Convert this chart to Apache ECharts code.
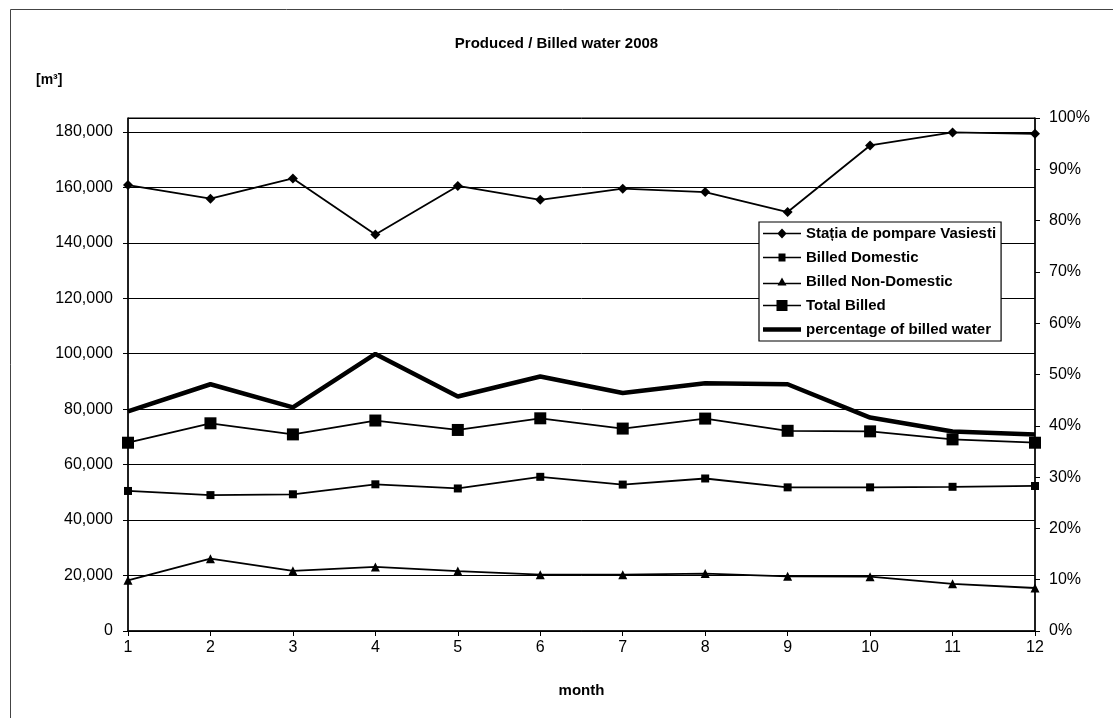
<!DOCTYPE html>
<html>
<head>
<meta charset="utf-8">
<script src="https://cdn.jsdelivr.net/npm/echarts@6/dist/echarts.min.js"></script>
<style>
html,body{margin:0;padding:0;background:#fff;}
#chart{width:1113px;height:718px;}
</style>
</head>
<body>
<div id="chart"></div>
<script>
const months = ['1','2','3','4','5','6','7','8','9','10','11','12'];
const statia = [160800,155900,163200,143000,160500,155500,159500,158300,151100,175100,179800,179300];
const billedDomestic = [50500,49000,49300,52900,51400,55600,52800,55000,51800,51800,52000,52300];
const billedNonDomestic = [18300,26100,21700,23100,21600,20300,20300,20700,19700,19600,17000,15500];
const totalBilled = [67900,74900,70900,75900,72500,76700,73000,76600,72200,72000,69100,67900];
const pctBilled = [42.8,48.1,43.6,54.0,45.7,49.6,46.4,48.3,48.1,41.6,38.9,38.3];
const seriesNames = ['Stația de pompare Vasiesti','Billed Domestic','Billed Non-Domestic','Total Billed','percentage of billed water'];

const FONT = '"Liberation Sans", Arial, sans-serif';
const chart = echarts.init(document.getElementById('chart'));
function fmtThousands(v){ return String(Math.round(v)).replace(/\B(?=(\d{3})+(?!\d))/g, ','); }

// legend glyphs (line + marker) in the style of the original
const legendIcons = [
  'path://M0,4.25 L15,4.25 L19,0 L23,4.25 L38,4.25 L38,5.75 L23,5.75 L19,10 L15,5.75 L0,5.75 Z',
  'path://M0,3.25 L15.5,3.25 L15.5,0 L22.5,0 L22.5,3.25 L38,3.25 L38,4.75 L22.5,4.75 L22.5,8 L15.5,8 L15.5,4.75 L0,4.75 Z',
  'path://M0,5.25 L16.05,5.25 L19,0 L21.95,5.25 L38,5.25 L38,6.75 L22.8,6.75 L23.5,8 L14.5,8 L15.2,6.75 L0,6.75 Z',
  'path://M0,4.75 L13.5,4.75 L13.5,0 L24.5,0 L24.5,4.75 L38,4.75 L38,6.25 L24.5,6.25 L24.5,11 L13.5,11 L13.5,6.25 L0,6.25 Z',
  'path://M0,0 L38,0 L38,4.5 L0,4.5 Z'
];

const lineBase = {type:'line', color:'#000', animation:false, z:3};
chart.setOption({
  backgroundColor:'#fff',
  textStyle:{fontFamily:FONT, color:'#000'},
  title:[
    {text:'Produced / Billed water 2008', left:'center', top:31,
     textStyle:{fontFamily:FONT, fontSize:15, fontWeight:'bold', color:'#000'}},
    {text:'[m³]', left:31, top:68,
     textStyle:{fontFamily:FONT, fontSize:14, fontWeight:'bold', color:'#000'}}
  ],
  graphic:[{type:'rect', left:8, top:7, shape:{width:1300, height:900},
    style:{fill:'none', stroke:'#444', lineWidth:1}, silent:true, z:-1}],
  grid:{left:128, right:78, top:118, bottom:87, show:true, borderColor:'#000', borderWidth:1, backgroundColor:'#fff'},
  legend:{
    orient:'vertical', left:759, top:222,
    data:seriesNames.map(function(n,i){ return {name:n, icon:legendIcons[i], itemStyle:{color:'#000', borderWidth:0}}; }),
    backgroundColor:'#fff', borderColor:'#000', borderWidth:1.2,
    padding:[4,5,4,4], itemWidth:38, itemHeight:14, itemGap:9,
    textStyle:{fontFamily:FONT, fontSize:15, fontWeight:'bold', color:'#000'}
  },
  xAxis:{
    type:'category', data:months, boundaryGap:false,
    name:'month', nameLocation:'middle', nameGap:52,
    nameTextStyle:{fontFamily:FONT, fontSize:15, fontWeight:'bold', color:'#000'},
    axisLine:{lineStyle:{color:'#000', width:1.5}},
    axisTick:{show:true, alignWithLabel:true, length:5, lineStyle:{color:'#000'}},
    axisLabel:{fontFamily:FONT, fontSize:16, color:'#000', margin:9},
    splitLine:{show:false}
  },
  yAxis:[
    {type:'value', min:0, max:185000, interval:20000,
     axisLine:{show:true, lineStyle:{color:'#000', width:1.5}},
     axisTick:{show:true, length:5, lineStyle:{color:'#000'}},
     axisLabel:{fontFamily:FONT, fontSize:16, color:'#000', margin:15, showMaxLabel:false,
       formatter:function(v){ return fmtThousands(v); }},
     splitLine:{show:true, lineStyle:{color:'#000', width:1}}
    },
    {type:'value', min:0, max:100, interval:10, position:'right',
     axisLine:{show:true, lineStyle:{color:'#000', width:1.5}},
     axisTick:{show:true, length:5, lineStyle:{color:'#000'}},
     axisLabel:{fontFamily:FONT, fontSize:16, color:'#000', margin:14, formatter:'{value}%'},
     splitLine:{show:false}
    }
  ],
  series:[
    Object.assign({}, lineBase, {name:seriesNames[0], data:statia, symbol:'diamond', symbolSize:10,
      lineStyle:{color:'#000', width:1.8}, itemStyle:{color:'#000'}}),
    Object.assign({}, lineBase, {name:seriesNames[1], data:billedDomestic, symbol:'rect', symbolSize:8,
      lineStyle:{color:'#000', width:1.8}, itemStyle:{color:'#000'}}),
    Object.assign({}, lineBase, {name:seriesNames[2], data:billedNonDomestic, symbol:'triangle', symbolSize:9,
      lineStyle:{color:'#000', width:1.8}, itemStyle:{color:'#000'}}),
    Object.assign({}, lineBase, {name:seriesNames[3], data:totalBilled, symbol:'rect', symbolSize:12,
      lineStyle:{color:'#000', width:1.8}, itemStyle:{color:'#000'}}),
    Object.assign({}, lineBase, {name:seriesNames[4], data:pctBilled, yAxisIndex:1, symbol:'none', showSymbol:false,
      lineStyle:{color:'#000', width:4.5}, itemStyle:{color:'#000'}})
  ]
});
</script>
</body>
</html>
